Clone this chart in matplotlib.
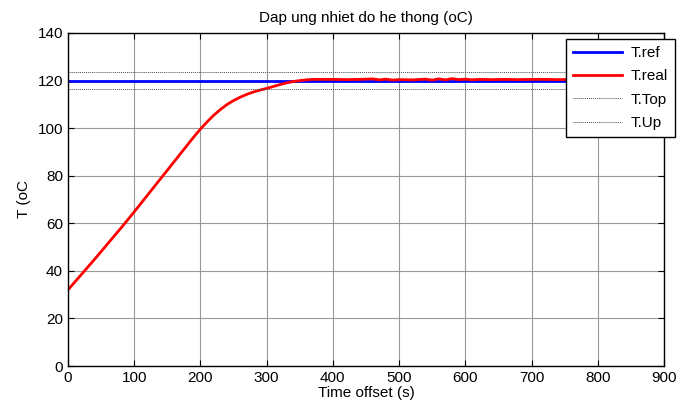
import numpy as np
import matplotlib
matplotlib.use("Agg")
import matplotlib.pyplot as plt

plt.rcParams['font.family'] = ['Liberation Sans', 'DejaVu Sans']

# -----------------------------------------------------------------------------
#                         Data
# -----------------------------------------------------------------------------
t_real = [0, 10, 20, 30, 40, 50, 60, 70, 80, 90, 100, 110, 120, 130, 140, 150,
          160, 170, 180, 190, 200, 210, 220, 230, 240, 250, 260, 270, 280, 290,
          300, 310, 320, 330, 340, 350, 360, 370, 380, 400, 420, 440, 460, 470,
          480, 490, 500, 520, 540, 550, 560, 570, 580, 590, 600, 610, 620, 640,
          660, 680, 700, 720, 740, 760, 780, 800, 820, 840, 860, 880, 900]
T_real = [32.0, 35.2, 38.4, 41.6, 44.8, 48.1, 51.4, 54.7, 58.0, 61.4, 64.8,
          68.3, 71.8, 75.3, 78.8, 82.3, 85.8, 89.3, 92.8, 96.3, 99.6, 102.6,
          105.4, 107.8, 109.9, 111.6, 113.0, 114.2, 115.2, 116.0, 116.7, 117.5,
          118.3, 119.0, 119.6, 120.0, 120.3, 120.5, 120.5, 120.5, 120.4, 120.5,
          120.7, 120.3, 120.6, 120.2, 120.4, 120.3, 120.6, 120.2, 120.7, 120.3,
          120.8, 120.4, 120.6, 120.3, 120.5, 120.4, 120.5, 120.4, 120.5, 120.5,
          120.4, 120.5, 120.5, 120.5, 120.4, 120.5, 120.5, 120.5, 120.5]

t_ref = [0, 900]
T_ref = [120, 120]
T_top = [123.6, 123.6]
T_up = [116.4, 116.4]

# -----------------------------------------------------------------------------
#                                  Plotting
# -----------------------------------------------------------------------------
fig = plt.figure(figsize=(6.79, 4.13), dpi=100)
ax = fig.add_axes([0.1001, 0.1138, 0.8778, 0.8063])

ax.plot(t_ref, T_ref, color='#0000ff', lw=2, label='T.ref')
ax.plot(t_real, T_real, color='#ff0000', lw=2, label='T.real')
ax.plot(t_ref, T_top, color='0.3', lw=0.7, ls=(0, (1, 1)), label='T.Top')
ax.plot(t_ref, T_up, color='0.3', lw=0.7, ls=(0, (1, 1)), label='T.Up')

ax.set_xlim(0, 900)
ax.set_ylim(0, 140)
ax.set_xticks(np.arange(0, 901, 100))
ax.set_yticks(np.arange(0, 141, 20))
ax.grid(True, color='0.6', lw=0.8)
ax.tick_params(direction='in', labelsize=11, length=4, width=0.8, top=True, right=True)
for s in ax.spines.values():
    s.set_linewidth(1.0)

ax.set_title('Dap ung nhiet do he thong (oC)', fontsize=11, pad=8)
ax.set_xlabel('Time offset (s)', fontsize=11, labelpad=1)
ax.set_ylabel('T (oC', fontsize=11, labelpad=5)

leg = ax.legend(loc='upper right', bbox_to_anchor=(675 / 679, 1 - 39 / 413),
                bbox_transform=fig.transFigure, borderaxespad=0, fontsize=11,
                fancybox=False, framealpha=1, edgecolor='k', handlelength=3.2,
                borderpad=0.45, labelspacing=0.62, handletextpad=0.6)
leg.get_frame().set_linewidth(1.0)

fig.savefig('out.png', dpi=100)
